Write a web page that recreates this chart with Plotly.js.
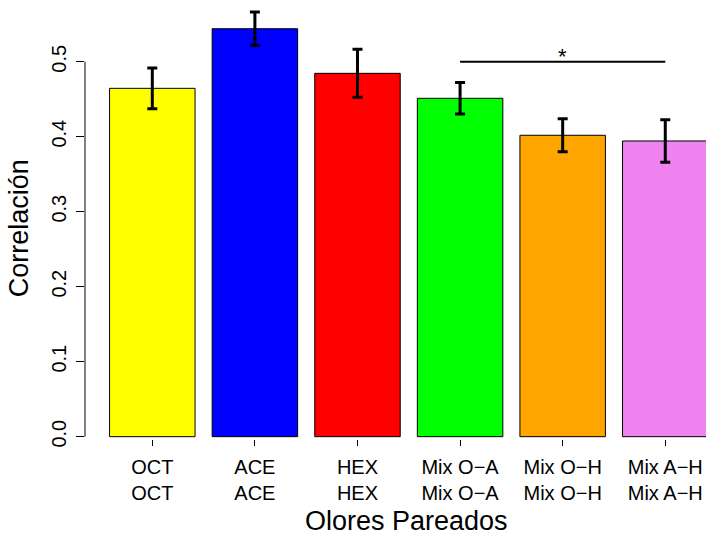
<!DOCTYPE html>
<html>
<head>
<meta charset="utf-8">
<script src="https://cdn.plot.ly/plotly-3.0.1.min.js"></script>
<style>html,body{margin:0;padding:0;background:#fff;}#chart{width:706px;height:537px;}</style>
</head>
<body>
<div id="chart"></div>
<script>
// Data
const categories = ["OCT", "ACE", "HEX", "Mix O\u2212A", "Mix O\u2212H", "Mix A\u2212H"];
const tickLabels = ["OCT<br>OCT", "ACE<br>ACE", "HEX<br>HEX", "Mix O\u2212A<br>Mix O\u2212A", "Mix O\u2212H<br>Mix O\u2212H", "Mix A\u2212H<br>Mix A\u2212H"];
const correlation = [0.4645, 0.544, 0.4845, 0.4512, 0.4019, 0.3943];
const errors = [0.0272, 0.0222, 0.032, 0.021, 0.022, 0.0284];
const barColors = ["#FFFF00", "#0000FF", "#FF0000", "#00FF00", "#FFA500", "#EE82EE"];
const yTicks = [0.0, 0.1, 0.2, 0.3, 0.4, 0.5];
const yTickText = ["0.0", "0.1", "0.2", "0.3", "0.4", "0.5"];
const sigLevel = 0.5;
const sigFrom = categories[3];
const sigTo = categories[5];
const sigMark = "*";
const sigCenter = categories[4];

const FONT = "Liberation Sans, Arial, Helvetica, sans-serif";

const trace = {
  type: "bar",
  x: categories,
  y: correlation,
  width: 0.8333,
  marker: { color: barColors, line: { color: "#000", width: 1 } },
  error_y: { type: "data", array: errors, visible: true, color: "#000", thickness: 3, width: 5 },
  hoverinfo: "x+y"
};

const layout = {
  width: 706,
  height: 537,
  margin: { l: 85, r: 0, t: 0, b: 98, pad: 0 },
  paper_bgcolor: "#fff",
  plot_bgcolor: "#fff",
  showlegend: false,
  font: { family: FONT, color: "#000", size: 20 },
  xaxis: {
    type: "category",
    range: [-0.656, 5.397],
    tickmode: "array",
    tickvals: categories,
    ticktext: tickLabels,
    ticks: "outside",
    ticklen: 6,
    tickwidth: 1,
    tickcolor: "#000",
    ticklabelstandoff: 4,
    showline: false,
    showgrid: false,
    zeroline: false,
    tickfont: { family: FONT, size: 20, color: "#000" },
    fixedrange: true
  },
  yaxis: {
    range: [-0.0031, 0.5823],
    tickmode: "array",
    tickvals: yTicks,
    ticktext: yTickText,
    tickangle: -90,
    ticks: "outside",
    ticklen: 8,
    tickwidth: 1,
    tickcolor: "#000",
    ticklabelstandoff: 2,
    showline: false,
    showgrid: false,
    zeroline: false,
    tickfont: { family: FONT, size: 20, color: "#000" },
    fixedrange: true
  },
  shapes: [
    { type: "line", xref: "paper", yref: "y", x0: 0, x1: 0, y0: 0, y1: 0.5, line: { color: "#000", width: 1 } },
    { type: "line", xref: "x", yref: "y", x0: sigFrom, x1: sigTo, y0: sigLevel, y1: sigLevel, line: { color: "#000", width: 2 } }
  ],
  annotations: [
    { xref: "x", yref: "y", x: sigCenter, y: sigLevel, text: sigMark, showarrow: false, xanchor: "center", yanchor: "middle", yshift: 5, font: { family: FONT, size: 22, color: "#000" } },
    { xref: "paper", yref: "paper", x: 0.517, y: -0.187, text: "Olores Pareados", showarrow: false, xanchor: "center", yanchor: "middle", font: { family: FONT, size: 27, color: "#000" } },
    { xref: "paper", yref: "paper", x: -0.105, y: 0.4795, text: "Correlación", textangle: -90, showarrow: false, xanchor: "center", yanchor: "middle", font: { family: FONT, size: 27, color: "#000" } }
  ]
};

Plotly.newPlot("chart", [trace], layout, { displayModeBar: false, staticPlot: true });
</script>
</body>
</html>
